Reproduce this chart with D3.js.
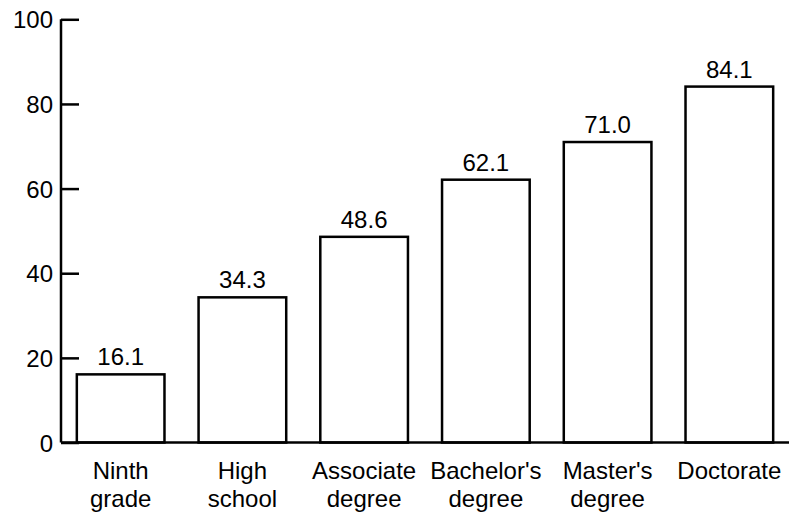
<!DOCTYPE html>
<html>
<head>
<meta charset="utf-8">
<script src="https://cdn.jsdelivr.net/npm/d3@7"></script>
<style>
  html, body { margin: 0; padding: 0; background: #fff; }
  svg { display: block; }
  text { font-family: "Liberation Sans", Arial, Helvetica, sans-serif; fill: #000; }
</style>
</head>
<body>
<svg id="chart" width="793" height="521"></svg>
<script>
// Education levels (two-line labels) and their values
const categories = [
  ["Ninth", "grade"],
  ["High", "school"],
  ["Associate", "degree"],
  ["Bachelor's", "degree"],
  ["Master's", "degree"],
  ["Doctorate"]
];
const values = [16.1, 34.3, 48.6, 62.1, 71.0, 84.1];
const valueLabels = ["16.1", "34.3", "48.6", "62.1", "71.0", "84.1"];
const yTicks = [0, 20, 40, 60, 80, 100];

const svg = d3.select("#chart");
const plotLeft = 61, plotRight = 789, plotTop = 19.3, plotBottom = 442.5;

const x = d3.scaleBand()
  .domain(d3.range(values.length))
  .range([plotLeft, plotRight])
  .paddingInner(0.28)
  .paddingOuter(0.13);

const y = d3.scaleLinear().domain([0, 100]).range([plotBottom, plotTop]);

// Bars
svg.append("g").selectAll("rect")
  .data(values)
  .join("rect")
  .attr("x", (d, i) => x(i))
  .attr("y", d => y(d))
  .attr("width", x.bandwidth())
  .attr("height", d => y(0) - y(d))
  .attr("fill", "#fff")
  .attr("stroke", "#000")
  .attr("stroke-width", 2.5);

// Value labels above the bars
svg.append("g").selectAll("text")
  .data(values)
  .join("text")
  .attr("x", (d, i) => x(i) + x.bandwidth() / 2)
  .attr("y", d => y(d) - 9)
  .attr("text-anchor", "middle")
  .attr("font-size", 24)
  .text((d, i) => valueLabels[i]);

// Y axis: ticks point inward, labels on the left
const yAxis = d3.axisRight(y)
  .tickValues(yTicks)
  .tickSize(18)
  .tickFormat(d3.format("d"));

const gy = svg.append("g")
  .attr("transform", `translate(${plotLeft},0)`)
  .call(yAxis);
gy.select(".domain").remove();
gy.selectAll(".tick line").attr("stroke", "#000").attr("stroke-width", 2.5);
gy.selectAll(".tick text")
  .attr("x", -8)
  .attr("dy", "0.36em")
  .attr("text-anchor", "end")
  .attr("font-size", 24)
  .attr("font-family", "'Liberation Sans', Arial, sans-serif")
  .attr("fill", "#000");

// Axis lines
svg.append("line")
  .attr("x1", plotLeft).attr("x2", plotLeft)
  .attr("y1", y(100)).attr("y2", y(0))
  .attr("stroke", "#000").attr("stroke-width", 2.5);
svg.append("line")
  .attr("x1", plotLeft).attr("x2", plotRight)
  .attr("y1", y(0)).attr("y2", y(0))
  .attr("stroke", "#000").attr("stroke-width", 2.5);

// Category labels below the baseline
const cat = svg.append("g").selectAll("text")
  .data(categories)
  .join("text")
  .attr("x", (d, i) => x(i) + x.bandwidth() / 2)
  .attr("y", 479)
  .attr("text-anchor", "middle")
  .attr("font-size", 24);
cat.selectAll("tspan")
  .data(d => d)
  .join("tspan")
  .attr("x", function () { return d3.select(this.parentNode).attr("x"); })
  .attr("dy", (d, i) => i === 0 ? 0 : 28)
  .text(d => d);
</script>
</body>
</html>
